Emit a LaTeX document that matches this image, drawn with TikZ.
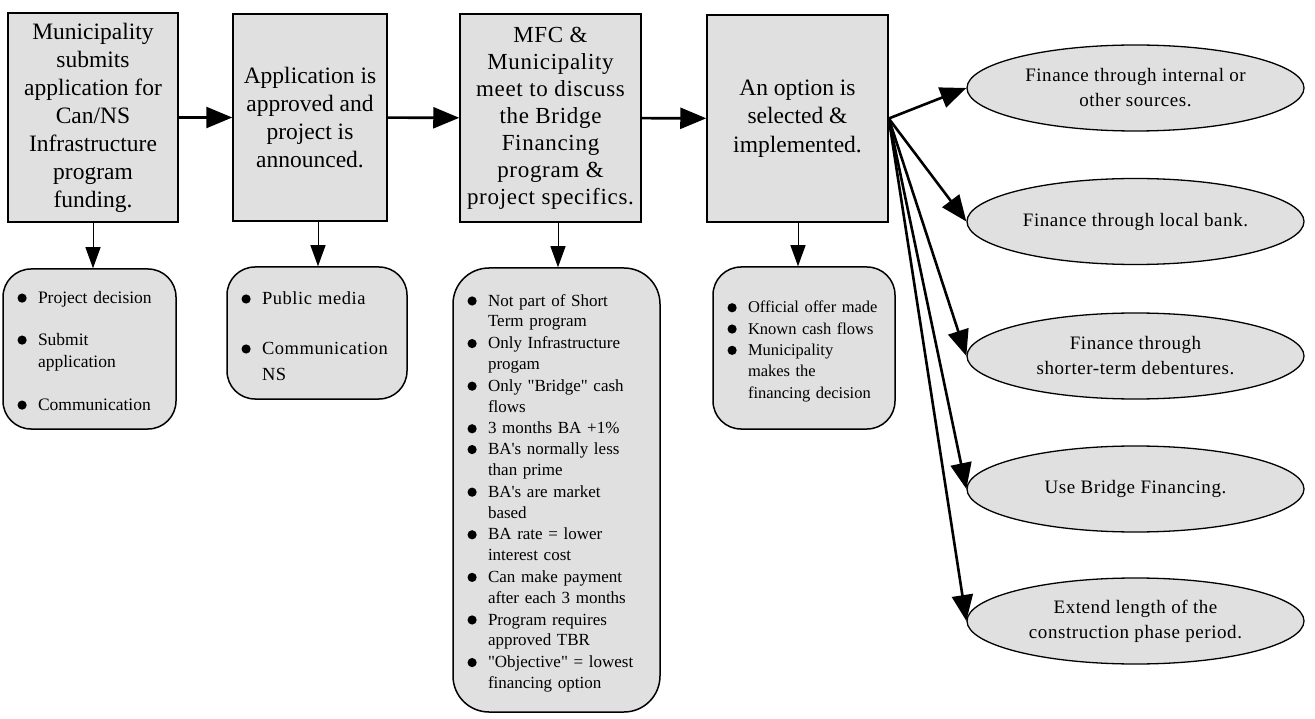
\documentclass[tikz,border=0pt]{standalone}
\usepackage{fontspec}
\setmainfont{Liberation Serif}
\newfontfamily\spacedfont[LetterSpace=3]{Liberation Serif}
\usetikzlibrary{arrows.meta,shapes.geometric}
\definecolor{boxgray}{RGB}{224,224,224}
\newcommand\dotbul{\raisebox{0.5pt}{\tikz\fill[black] (0,0) circle [radius=4.6pt];}}
\newcommand\bitem[1]{\par\noindent\makebox[21pt][l]{\hspace{0.5pt}\dotbul}\begin{tabular}[t]{@{}l@{}}#1\end{tabular}\par}
\newcommand\igap[1]{\vspace{#1}}
\tikzset{
  stepbox/.style={draw, line width=1.5pt, fill=boxgray, inner sep=0pt, align=center,
    font=\fontsize{23.5}{28}\selectfont},
  listbox/.style={draw, line width=1.5pt, fill=boxgray, inner xsep=14pt, inner ysep=0pt,
    align=left, rounded corners=28pt},
  opt/.style={ellipse, draw, line width=1.3pt, fill=boxgray, minimum width=337pt,
    minimum height=86pt, inner sep=0pt, align=center,
    font=\spacedfont\fontsize{19}{25}\selectfont},
  flow/.style={-{Triangle[length=26pt,width=21pt]}, line width=2.6pt},
  down/.style={-{Triangle[length=21pt,width=15pt]}, line width=1pt}
}
\begin{document}
\begin{tikzpicture}[x=1pt,y=-1pt]
\useasboundingbox (0,0) rectangle (1315,719);
% top process boxes
\node[stepbox, minimum width=170pt, minimum height=209pt] (b1) at (93,117.5)
  {Municipality\\submits\\application for\\Can/NS\\Infrastructure\\program\\funding.};
\node[stepbox, minimum width=154pt, minimum height=207pt] (b2) at (310,117.5)
  {Application is\\approved and\\project is\\announced.};
\node[stepbox, minimum width=181pt, minimum height=208pt, font=\spacedfont\fontsize{23}{27}\selectfont] (b3) at (550.5,118)
  {MFC \&\\Municipality\\meet to discuss\\the Bridge\\Financing\\program \&\\project specifics.};
\node[stepbox, minimum width=181pt, minimum height=207pt, font=\fontsize{23.5}{28.5}\selectfont] (b4) at (797.5,118.5)
  {An option is\\selected \&\\implemented.};
% list boxes
\node[listbox, text width=145pt, minimum height=160pt, font=\fontsize{17.5}{22}\selectfont] (l1) at (89.5,349)
  {\bitem{Project decision}\igap{20pt}\bitem{Submit\\application}\igap{20pt}\bitem{Communication}};
\node[listbox, text width=152pt, minimum height=132pt, font=\spacedfont\fontsize{18.5}{26}\selectfont] (l2) at (317,333)
  {\bitem{Public media}\igap{24pt}\bitem{Communication\\NS}};
\node[listbox, text width=179pt, minimum height=444pt, rounded corners=36pt, font=\fontsize{17}{20.8}\selectfont] (l3) at (556.5,490)
  {\bitem{Not part of Short\\Term program}\bitem{Only Infrastructure\\progam}\bitem{Only \textquotedbl Bridge\textquotedbl{} cash\\flows}\bitem{3 months BA +1\%}\bitem{BA\textquotesingle s normally less\\than prime}\bitem{BA\textquotesingle s are market\\based}\bitem{BA rate = lower\\interest cost}\bitem{Can make payment\\after each 3 months}\bitem{Program requires\\approved TBR}\bitem{\textquotedbl Objective\textquotedbl{} = lowest\\financing option}};
\node[listbox, text width=154pt, minimum height=162pt, font=\fontsize{16.5}{21.3}\selectfont] (l4) at (804,348)
  {\bitem{Official offer made}\bitem{Known cash flows}\bitem{Municipality\\makes the\\financing decision}};
% option ellipses
\node[opt] (e1) at (1135.5,88) {Finance through internal or\\other sources.};
\node[opt] (e2) at (1135.5,221.5) {Finance through local bank.};
\node[opt] (e3) at (1135.5,356) {Finance through\\shorter-term debentures.};
\node[opt] (e4) at (1135.5,489) {Use Bridge Financing.};
\node[opt] (e5) at (1135.5,621) {Extend length of the\\construction phase period.};
% main flow
\draw[flow] (b1) -- (b2);
\draw[flow] (b2) -- (b3);
\draw[flow] (b3) -- (b4);
\foreach \e in {e1,e2,e3,e4,e5} \draw[flow] (b4.east) -- (\e.west);
% down arrows
\coordinate (d1) at (b1.south);
\coordinate (d2) at ([xshift=8pt]b2.south);
\coordinate (d3) at ([xshift=7.5pt]b3.south);
\coordinate (d4) at ([xshift=0.5pt]b4.south);
\draw[down] (d1) -- (d1 |- l1.north);
\draw[down] (d2) -- (d2 |- l2.north);
\draw[down] (d3) -- (d3 |- l3.north);
\draw[down] (d4) -- (d4 |- l4.north);
\end{tikzpicture}
\end{document}
